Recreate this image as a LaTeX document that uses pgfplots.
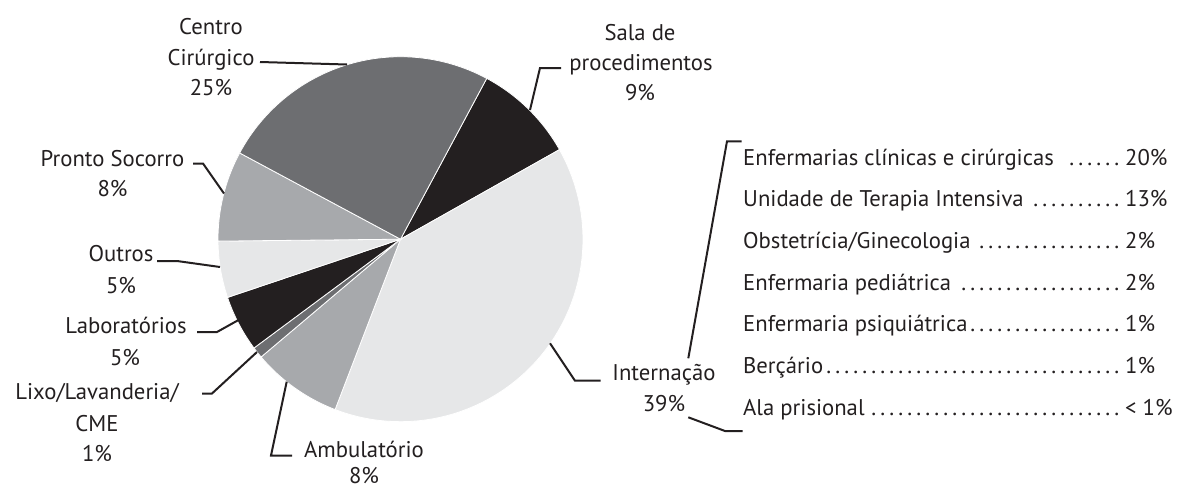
\documentclass[border=0pt]{standalone}
\usepackage{pgfplots}
\pgfplotsset{compat=1.18}
\usepackage{fontspec}
\setmainfont{PT Sans}
\definecolor{cblack}{HTML}{231F20}
\definecolor{cdark}{HTML}{6D6E71}
\definecolor{cmid}{HTML}{A7A9AC}
\definecolor{clight}{HTML}{E6E7E8}
\newcommand{\lf}{\fontsize{22.7}{30}\selectfont}
\newcommand{\pcx}{400.5}
\newcommand{\pcy}{239.2}
\newcommand{\pr}{182.5}
\newcommand{\pstart}{61.8}
\newcommand{\dl}{\leaders\hbox to 9pt{\hss.\hss}\hfill\hspace{3pt}}
\newcommand{\row}[2]{\makebox[382pt][l]{#1\dl}#2}
\tikzset{lab/.style={text=cblack, font=\lf, anchor=base, inner sep=0pt},
         rowlab/.style={text=cblack, font=\lf, anchor=base west, inner sep=0pt}}
\begin{document}
\begin{tikzpicture}
\begin{axis}[
  width=1179pt, height=488pt, scale only axis,
  xmin=0, xmax=1179, ymin=0, ymax=488, y dir=reverse,
  hide axis, clip=false,
]
% Pie slices: percentages 9, 39, 8, 1, 5, 5, 8, 25 (cumulative domains, clockwise)
\pgfplotsset{slice/.style={draw=white, line width=0.8pt, domain=#1, samples=60, variable=\t}}
\addplot[fill=cblack, slice=0:9]   ({\pcx+\pr*cos(\pstart-3.6*\t)}, {\pcy-\pr*sin(\pstart-3.6*\t)}) -- (\pcx,\pcy) -- cycle; % Sala de procedimentos 9
\addplot[fill=clight, slice=9:48]  ({\pcx+\pr*cos(\pstart-3.6*\t)}, {\pcy-\pr*sin(\pstart-3.6*\t)}) -- (\pcx,\pcy) -- cycle; % Internacao 39
\addplot[fill=cmid,   slice=48:56] ({\pcx+\pr*cos(\pstart-3.6*\t)}, {\pcy-\pr*sin(\pstart-3.6*\t)}) -- (\pcx,\pcy) -- cycle; % Ambulatorio 8
\addplot[fill=cdark,  slice=56:57] ({\pcx+\pr*cos(\pstart-3.6*\t)}, {\pcy-\pr*sin(\pstart-3.6*\t)}) -- (\pcx,\pcy) -- cycle; % Lixo 1
\addplot[fill=cblack, slice=57:62] ({\pcx+\pr*cos(\pstart-3.6*\t)}, {\pcy-\pr*sin(\pstart-3.6*\t)}) -- (\pcx,\pcy) -- cycle; % Laboratorios 5
\addplot[fill=clight, slice=62:67] ({\pcx+\pr*cos(\pstart-3.6*\t)}, {\pcy-\pr*sin(\pstart-3.6*\t)}) -- (\pcx,\pcy) -- cycle; % Outros 5
\addplot[fill=cmid,   slice=67:75] ({\pcx+\pr*cos(\pstart-3.6*\t)}, {\pcy-\pr*sin(\pstart-3.6*\t)}) -- (\pcx,\pcy) -- cycle; % Pronto Socorro 8
\addplot[fill=cdark,  slice=75:100]({\pcx+\pr*cos(\pstart-3.6*\t)}, {\pcy-\pr*sin(\pstart-3.6*\t)}) -- (\pcx,\pcy) -- cycle; % Centro Cirurgico 25

% Leader lines
\pgfplotsset{leader/.style={cblack, line width=2pt, line join=miter}}
\addplot[leader] coordinates {(260,62) (347,64.5)};
\addplot[leader] coordinates {(561,68) (540,68) (530,110)};
\addplot[leader] coordinates {(193,163.5) (203,163.5) (224,193.5)};
\addplot[leader] coordinates {(157,261) (177,261) (220,267)};
\addplot[leader] coordinates {(197,332) (217,332) (238.5,320)};
\addplot[leader] coordinates {(202,393.5) (212,393.5) (257,352)};
\addplot[leader] coordinates {(286.7,381.7) (271,455.5) (292,455.5)};
\addplot[leader] coordinates {(550,343.3) (575,380.7) (600.7,380.7)};
\addplot[leader] coordinates {(741.7,141.3) (727,141.3) (688.3,358.3)};
\addplot[leader] coordinates {(688.3,417.3) (725,431) (742.7,431)};

% Pie labels
\node[lab] at (211,34.5) {Centro};
\node[lab] at (211,65) {Cirúrgico};
\node[lab] at (211,95.5) {25\%};
\node[lab] at (640,40) {Sala de};
\node[lab] at (641,70) {procedimentos};
\node[lab] at (640,100) {9\%};
\node[lab] at (112.5,166.5) {Pronto Socorro};
\node[lab] at (112.5,196.5) {8\%};
\node[lab] at (121,261.5) {Outros};
\node[lab] at (121,293) {5\%};
\node[lab] at (126,333) {Laboratórios};
\node[lab] at (125,365) {5\%};
\node[lab] at (97,399) {Lixo/Lavanderia/};
\node[lab] at (97,431.5) {CME};
\node[lab] at (97,461.5) {1\%};
\node[lab] at (364,457) {Ambulatório};
\node[lab] at (364,483) {8\%};
\node[lab] at (664,380) {Internação};
\node[lab] at (664,411.5) {39\%};

% Internacao breakdown
\node[rowlab] at (743,165)   {\row{Enfermarias clínicas e cirúrgicas\ }{20\%}};
\node[rowlab] at (743,206.7) {\row{Unidade de Terapia Intensiva}{13\%}};
\node[rowlab] at (743,248.3) {\row{Obstetrícia/Ginecologia}{2\%}};
\node[rowlab] at (743,290)   {\row{Enfermaria pediátrica\ }{2\%}};
\node[rowlab] at (743,331.7) {\row{Enfermaria psiquiátrica}{1\%}};
\node[rowlab] at (743,373.3) {\row{Berçário}{1\%}};
\node[rowlab] at (743,415)   {\row{Ala prisional}{< 1\%}};
\end{axis}
\pgfresetboundingbox
\useasboundingbox (0,0) rectangle (1179pt,488pt);
\end{tikzpicture}
\end{document}
